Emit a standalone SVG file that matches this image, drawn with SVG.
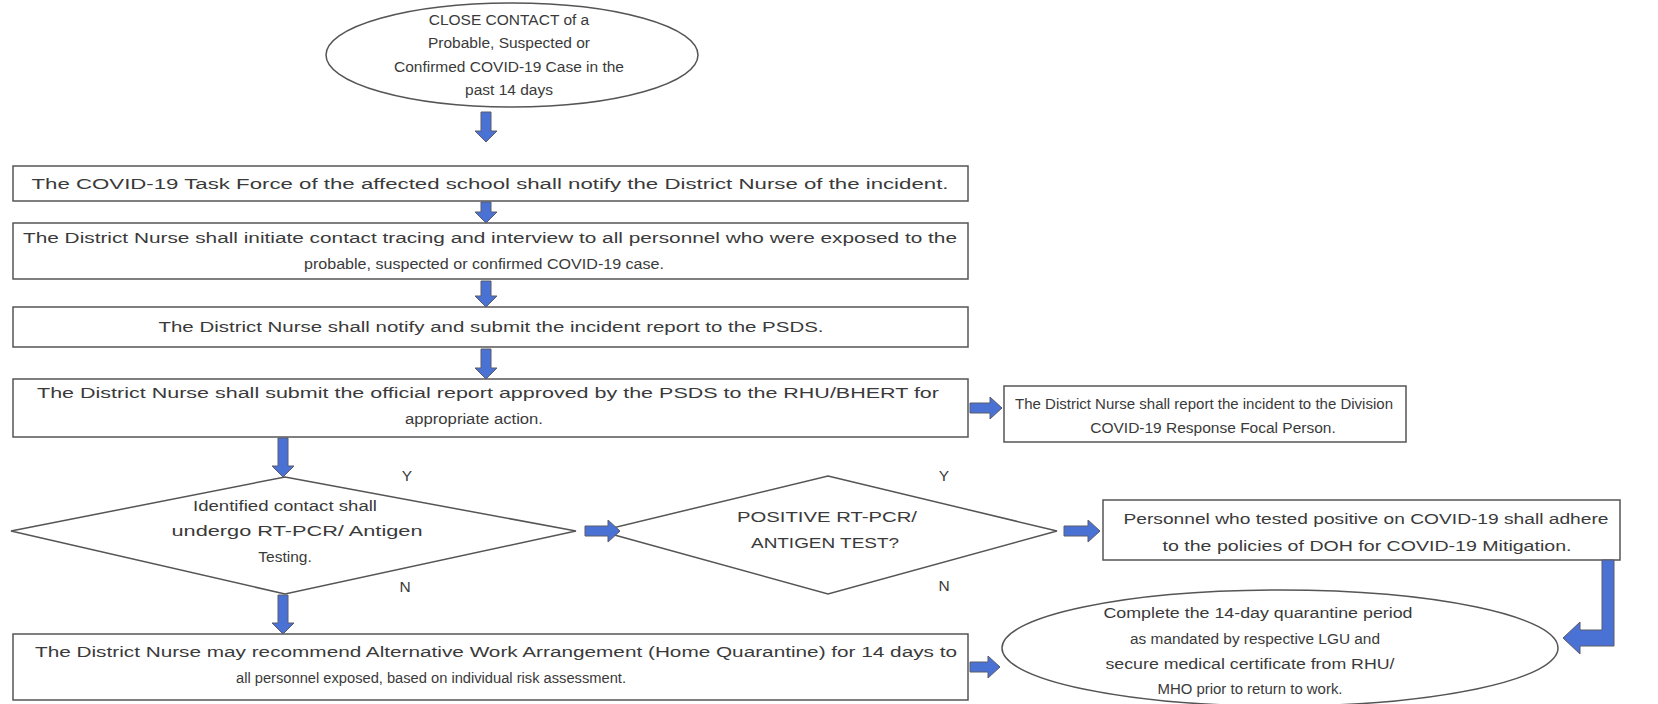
<svg xmlns="http://www.w3.org/2000/svg" width="1658" height="704" viewBox="0 0 1658 704">
<style>
.bx{fill:#fff;stroke:#555;stroke-width:1.5}
.t{font-family:"Liberation Sans",Arial,sans-serif;font-size:15.5px;fill:#3a3a3a;text-anchor:middle}
.ar{fill:#4a72d4;stroke:#5a5a6a;stroke-width:1}
</style>
<rect width="1658" height="704" fill="#fff"/>
<g id="start">
<ellipse class="bx" cx="512" cy="55" rx="186" ry="52"/>
<text class="t" x="509" y="25">CLOSE CONTACT of a</text>
<text class="t" x="509" y="48">Probable, Suspected or</text>
<text class="t" x="509" y="72">Confirmed COVID-19 Case in the</text>
<text class="t" x="509" y="95">past 14 days</text>
</g>
<g id="notify">
<rect class="bx" x="13" y="166" width="955" height="35"/>
<text class="t" x="490" y="189" textLength="917" lengthAdjust="spacingAndGlyphs">The COVID-19 Task Force of the affected school shall notify the District Nurse of the incident.</text>
</g>
<g id="tracing">
<rect class="bx" x="13" y="223" width="955" height="56"/>
<text class="t" x="490" y="243" textLength="934" lengthAdjust="spacingAndGlyphs">The District Nurse shall initiate contact tracing and interview to all personnel who were exposed to the</text>
<text class="t" x="484" y="269" textLength="360" lengthAdjust="spacingAndGlyphs">probable, suspected or confirmed COVID-19 case.</text>
</g>
<g id="report">
<rect class="bx" x="13" y="307" width="955" height="40"/>
<text class="t" x="491" y="332" textLength="665" lengthAdjust="spacingAndGlyphs">The District Nurse shall notify and submit the incident report to the PSDS.</text>
</g>
<g id="submit">
<rect class="bx" x="13" y="379" width="955" height="58"/>
<text class="t" x="488" y="398" textLength="902" lengthAdjust="spacingAndGlyphs">The District Nurse shall submit the official report approved by the PSDS to the RHU/BHERT for</text>
<text class="t" x="474" y="424" textLength="138" lengthAdjust="spacingAndGlyphs">appropriate action.</text>
</g>
<g id="division">
<rect class="bx" x="1004" y="386" width="402" height="56"/>
<text class="t" x="1204" y="409" textLength="378" lengthAdjust="spacingAndGlyphs">The District Nurse shall report the incident to the Division</text>
<text class="t" x="1213" y="433">COVID-19 Response Focal Person.</text>
</g>
<g id="testing">
<polygon class="bx" points="285,477 576,531 285,594 11,531"/>
<text class="t" x="285" y="511" textLength="184" lengthAdjust="spacingAndGlyphs">Identified contact shall</text>
<text class="t" x="297" y="536" textLength="251" lengthAdjust="spacingAndGlyphs">undergo RT-PCR/ Antigen</text>
<text class="t" x="285" y="562">Testing.</text>
</g>
<g id="positive">
<polygon class="bx" points="828,476 1057,531 828,594 600,531"/>
<text class="t" x="827" y="522" textLength="180" lengthAdjust="spacingAndGlyphs">POSITIVE RT-PCR/</text>
<text class="t" x="825" y="548" textLength="148" lengthAdjust="spacingAndGlyphs">ANTIGEN TEST?</text>
</g>
<g id="doh">
<rect class="bx" x="1103" y="500" width="517" height="60"/>
<text class="t" x="1366" y="524" textLength="485" lengthAdjust="spacingAndGlyphs">Personnel who tested positive on COVID-19 shall adhere</text>
<text class="t" x="1367" y="551" textLength="409" lengthAdjust="spacingAndGlyphs">to the policies of DOH for COVID-19 Mitigation.</text>
</g>
<g id="quarantine">
<rect class="bx" x="13" y="634" width="955" height="66"/>
<text class="t" x="496" y="657" textLength="922" lengthAdjust="spacingAndGlyphs">The District Nurse may recommend Alternative Work Arrangement (Home Quarantine) for 14 days to</text>
<text class="t" x="431" y="683" textLength="390" lengthAdjust="spacingAndGlyphs">all personnel exposed, based on individual risk assessment.</text>
</g>
<g id="complete">
<ellipse class="bx" cx="1280" cy="648" rx="278" ry="58"/>
<text class="t" x="1258" y="618" textLength="309" lengthAdjust="spacingAndGlyphs">Complete the 14-day quarantine period</text>
<text class="t" x="1255" y="644" textLength="250" lengthAdjust="spacingAndGlyphs">as mandated by respective LGU and</text>
<text class="t" x="1250" y="669" textLength="289" lengthAdjust="spacingAndGlyphs">secure medical certificate from RHU/</text>
<text class="t" x="1250" y="694" textLength="185" lengthAdjust="spacingAndGlyphs">MHO prior to return to work.</text>
</g>
<g id="labels">
<text class="t" x="407" y="481">Y</text>
<text class="t" x="405" y="592">N</text>
<text class="t" x="944" y="481">Y</text>
<text class="t" x="944" y="591">N</text>
</g>
<g id="connectors">
<path class="ar" d="M481,112 L491,112 L491,131 L497,131 L486,142 L475,131 L481,131 Z"/>
<path class="ar" d="M481,202 L491,202 L491,212 L497,212 L486,223 L475,212 L481,212 Z"/>
<path class="ar" d="M481,281 L491,281 L491,296 L497,296 L486,307 L475,296 L481,296 Z"/>
<path class="ar" d="M481,349 L491,349 L491,368 L497,368 L486,379 L475,368 L481,368 Z"/>
<path class="ar" d="M278,438 L288,438 L288,466 L294,466 L283,477 L272,466 L278,466 Z"/>
<path class="ar" d="M278,595 L288,595 L288,623 L294,623 L283,634 L272,623 L278,623 Z"/>
<path class="ar" d="M970,403 L990,403 L990,397 L1002,408 L990,419 L990,413 L970,413 Z"/>
<path class="ar" d="M585,526 L608,526 L608,520 L620,531 L608,542 L608,536 L585,536 Z"/>
<path class="ar" d="M1064,526 L1088,526 L1088,520 L1100,531 L1088,542 L1088,536 L1064,536 Z"/>
<path class="ar" d="M970,662 L988,662 L988,656 L1000,667 L988,678 L988,672 L970,672 Z"/>
<path class="ar" d="M1602,560 L1614,560 L1614,646 L1580,646 L1580,654 L1563,638 L1580,622 L1580,630 L1602,630 Z"/>
</g>
</svg>
